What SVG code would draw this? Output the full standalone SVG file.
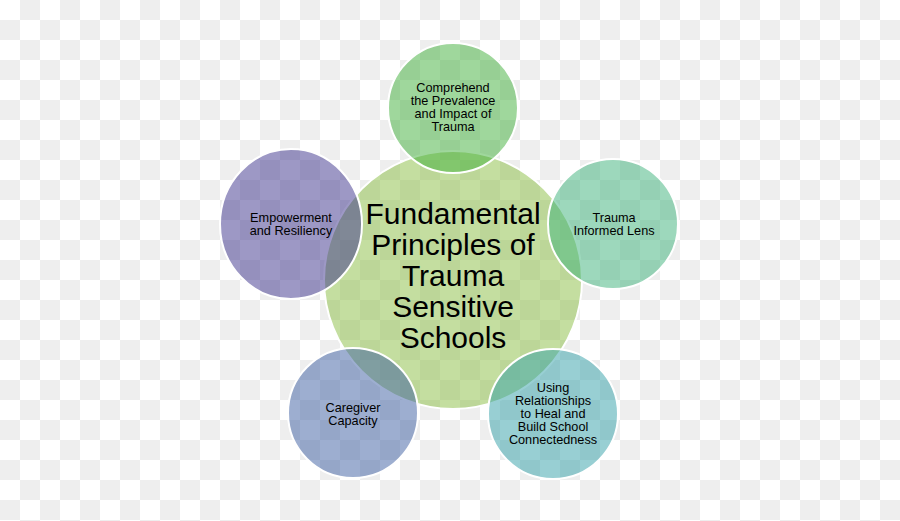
<svg xmlns="http://www.w3.org/2000/svg" width="900" height="521" viewBox="0 0 900 521">
<defs>
<pattern id="checks" x="0" y="0" width="40" height="40" patternUnits="userSpaceOnUse">
<rect width="40" height="40" fill="#ffffff"/>
<rect x="20" y="0" width="20" height="20" fill="#eeeeee"/>
<rect x="0" y="20" width="20" height="20" fill="#eeeeee"/>
</pattern>
</defs>
<style>
.c{stroke:#ffffff;stroke-width:2;fill-opacity:0.5}
.t{font-family:"Liberation Sans",Arial,sans-serif;fill:#000000;text-anchor:middle}
.s{font-size:12.7px}
.b{font-size:30px}
</style>
<rect width="900" height="521" fill="url(#checks)"/>
<g id="center">
<circle class="c" cx="453" cy="280" r="129" fill="#89bd41"/>
<text class="t b" x="453" y="224">Fundamental</text>
<text class="t b" x="453" y="255">Principles of</text>
<text class="t b" x="453" y="286">Trauma</text>
<text class="t b" x="453" y="317">Sensitive</text>
<text class="t b" x="453" y="348">Schools</text>
</g>
<g id="comprehend">
<circle class="c" cx="453" cy="108" r="65" fill="#3faf39"/>
<text class="t s" x="453" y="92">Comprehend</text>
<text class="t s" x="453" y="105">the Prevalence</text>
<text class="t s" x="453" y="118">and Impact of</text>
<text class="t s" x="453" y="131">Trauma</text>
</g>
<g id="lens">
<circle class="c" cx="613" cy="224" r="65" fill="#3bb179"/>
<text class="t s" x="614" y="222">Trauma</text>
<text class="t s" x="614" y="235">Informed Lens</text>
</g>
<g id="relationships">
<circle class="c" cx="553" cy="414" r="65" fill="#319fa7"/>
<text class="t s" x="553" y="392">Using</text>
<text class="t s" x="553" y="405">Relationships</text>
<text class="t s" x="553" y="418">to Heal and</text>
<text class="t s" x="553" y="431">Build School</text>
<text class="t s" x="553" y="444">Connectedness</text>
</g>
<g id="caregiver">
<circle class="c" cx="353" cy="413" r="65" fill="#3b5da1"/>
<text class="t s" x="353" y="412">Caregiver</text>
<text class="t s" x="353" y="425">Capacity</text>
</g>
<g id="empowerment">
<ellipse class="c" cx="291" cy="224" rx="71" ry="75" fill="#3c328c"/>
<text class="t s" x="291" y="222">Empowerment</text>
<text class="t s" x="291" y="235">and Resiliency</text>
</g>
<g id="connectors"></g>
</svg>
